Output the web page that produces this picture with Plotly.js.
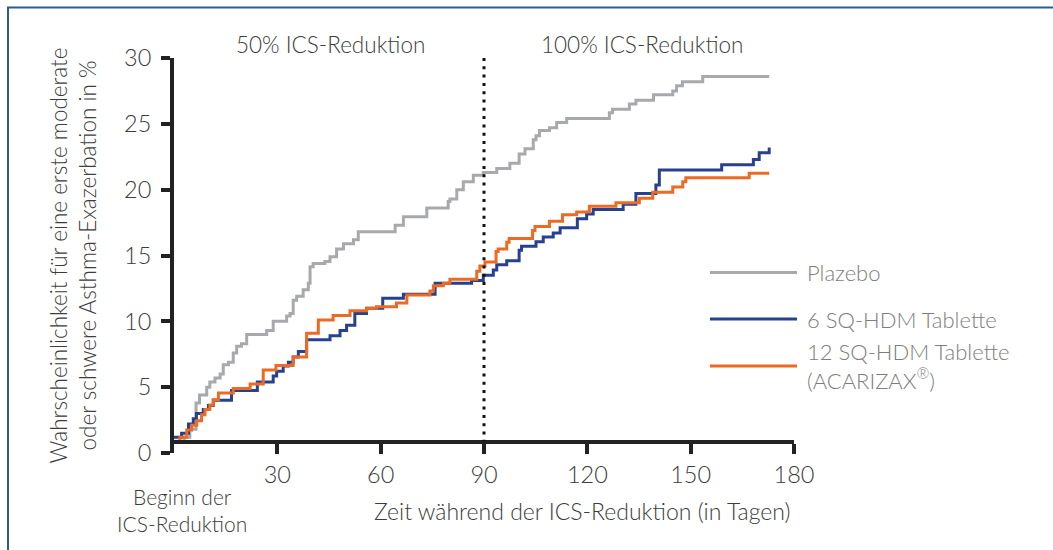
<!DOCTYPE html>
<html>
<head>
<meta charset="utf-8">
<script src="https://cdn.plot.ly/plotly-3.0.1.min.js"></script>
<style>
  html, body { margin: 0; padding: 0; background: #ffffff; }
  #chart { width: 1053px; height: 550px; }
</style>
</head>
<body>
<div id="chart"></div>
<script>
// ---------- data ----------
const seriesNames = ["Plazebo", "6 SQ-HDM Tablette", "12 SQ-HDM Tablette<br>(ACARIZAX<sup>®</sup>)"];

const plazeboDays = [0, 3.0, 4.6, 6.4, 7.4, 9.5, 10.4, 11.9, 13.4, 14.3, 15.8, 17.2, 18.2, 19.6, 21.1, 26.9, 28.8, 32.7, 33.7, 34.6, 35.6, 37.5, 39.0, 39.5, 40.4, 43.8, 45.3, 47.2, 49.2, 52.1, 53.5, 64.2, 66.6, 73.4, 79.6, 80.1, 82.1, 84.0, 86.9, 89.8, 93.7, 97.5, 100.2, 101.9, 104.3, 105.1, 106.1, 109.0, 111.1, 114.0, 126.4, 127.3, 132.2, 134.1, 139.2, 144.8, 145.9, 147.6, 153.5, 172.8];
const plazeboPct  = [0.9, 1.2, 1.8, 3.8, 4.4, 5.0, 5.4, 5.7, 6.0, 6.7, 6.9, 7.6, 8.1, 8.3, 9.0, 9.3, 10.0, 10.4, 10.6, 11.6, 11.9, 12.4, 12.9, 14.15, 14.4, 14.55, 14.9, 15.5, 15.9, 16.2, 16.8, 17.3, 17.95, 18.6, 19.1, 19.3, 20.0, 20.6, 21.1, 21.3, 21.6, 22.0, 22.7, 23.1, 23.8, 24.1, 24.5, 24.7, 25.1, 25.4, 25.85, 26.1, 26.5, 26.8, 27.2, 27.5, 27.9, 28.2, 28.6, 28.6];

const sq6Days = [0, 2.2, 4.2, 5.6, 6.5, 8.5, 10.0, 11.4, 16.7, 24.2, 28.8, 29.8, 31.7, 33.2, 34.6, 36.1, 38.5, 45.3, 48.2, 50.1, 52.5, 55.9, 60.6, 66.6, 75.8, 86.4, 89.8, 92.7, 93.7, 96.6, 100.2, 100.9, 105.1, 107.2, 110.1, 112.1, 117.1, 119.8, 121.7, 130.4, 134.1, 139.9, 140.9, 159.0, 168.2, 169.9, 172.8];
const sq6Pct  = [1.2, 1.5, 2.2, 2.6, 3.0, 3.3, 3.6, 4.0, 4.75, 5.4, 5.85, 6.2, 6.6, 6.9, 7.3, 7.7, 8.6, 8.9, 9.3, 9.7, 10.6, 11.0, 11.75, 12.05, 12.9, 13.1, 13.5, 13.9, 14.3, 14.6, 15.4, 15.7, 16.05, 16.4, 16.7, 17.1, 17.8, 18.15, 18.5, 18.9, 19.7, 20.35, 21.5, 21.9, 22.3, 22.8, 23.2];

const sq12Days = [0, 1.7, 3.7, 5.1, 6.6, 8.0, 9.0, 10.4, 11.4, 12.9, 17.2, 22.1, 25.9, 29.6, 34.6, 38.5, 41.9, 46.2, 51.1, 55.9, 58.8, 64.6, 67.6, 74.3, 75.3, 78.2, 80.1, 87.9, 88.8, 90.3, 93.5, 94.1, 96.6, 97.3, 104.1, 104.8, 109.0, 112.8, 116.9, 120.6, 128.3, 135.1, 139.0, 144.8, 147.7, 148.6, 167.0, 172.8];
const sq12Pct  = [0.8, 1.2, 1.75, 2.1, 2.45, 2.9, 3.3, 3.65, 4.05, 4.55, 4.9, 5.25, 6.3, 6.65, 7.3, 9.1, 10.1, 10.45, 10.8, 11.0, 11.1, 11.4, 12.0, 12.3, 12.7, 12.9, 13.2, 13.8, 14.2, 14.5, 15.3, 15.5, 16.0, 16.3, 16.9, 17.2, 17.6, 18.1, 18.3, 18.75, 19.0, 19.35, 19.8, 20.2, 20.6, 20.9, 21.25, 21.25];

const xTickVals = [30, 60, 90, 120, 150, 180];
const yTickVals = [0, 5, 10, 15, 20, 25, 30];
const phaseSplitDay = 90;
const phaseLabels = ["50% ICS-Reduktion", "100% ICS-Reduktion"];

// ---------- styling ----------
const colors = ["#a7a9ac", "#27408f", "#ec6b24"];
const FONT = "Lato, 'Open Sans', 'DejaVu Sans', sans-serif";
const dark = "#3c3c3c";
const axisCol = "#222222";

// plot area in pixels: x 174..794, y 58..453
const L = 174, R = 794, T = 58, B = 453;
const PX = px => (px - L) / (R - L);
const PY = py => (B - py) / (B - T);

const mk = (x, y, i) => ({
  type: "scatter", mode: "lines", x: x, y: y, name: seriesNames[i],
  line: { color: colors[i], width: 3, shape: "hv" },
  showlegend: false, hoverinfo: "skip"
});

const traces = [
  mk(plazeboDays, plazeboPct, 0),
  mk(sq6Days, sq6Pct, 1),
  mk(sq12Days, sq12Pct, 2)
];

// legend (drawn by hand: long sample lines)
const legendY = [272.5, 319, 366];
const legendShapes = legendY.map((py, i) => ({
  type: "line", xref: "paper", yref: "paper",
  x0: PX(710), x1: PX(797), y0: PY(py), y1: PY(py),
  line: { color: colors[i], width: 3 }
}));
const legendAnn = legendY.map((py, i) => ({
  xref: "paper", yref: "paper", x: PX(805), y: PY(py),
  xanchor: "left", yanchor: "middle", align: "left",
  text: seriesNames[i], showarrow: false,
  font: { family: FONT, size: 22, color: "#7d7d7d", weight: 300 }
}));

const layout = {
  width: 1053, height: 550,
  margin: { l: L, r: 1053 - R, t: T, b: 550 - B, pad: 0 },
  paper_bgcolor: "#ffffff", plot_bgcolor: "#ffffff",
  showlegend: false,
  font: { family: FONT, color: dark, weight: 300 },
  xaxis: {
    range: [0, 180], anchor: "free", position: PY(442),
    showgrid: false, zeroline: false,
    showline: true, linecolor: axisCol, linewidth: 4,
    ticks: "outside", ticklen: 10, tickwidth: 4, tickcolor: axisCol,
    tickvals: xTickVals,
    ticklabelstandoff: 1,
    tickfont: { family: FONT, size: 23.5, color: dark, weight: 300 },
    fixedrange: true
  },
  yaxis: {
    range: [0, 30], anchor: "x",
    showgrid: false, zeroline: false,
    showline: true, linecolor: axisCol, linewidth: 4,
    ticks: "outside", ticklen: 9, tickwidth: 4, tickcolor: axisCol,
    tickvals: yTickVals,
    ticklabelstandoff: 5,
    tickfont: { family: FONT, size: 23.5, color: dark, weight: 300 },
    title: {
      text: "Wahrscheinlichkeit für eine erste moderate<br>oder schwere Asthma-Exazerbation in %",
      font: { family: FONT, size: 22.5, color: dark, weight: 300 },
      standoff: 22
    },
    fixedrange: true
  },
  shapes: [
    { type: "line", xref: "x", yref: "y", x0: phaseSplitDay, x1: phaseSplitDay, y0: 30, y1: 0.9,
      line: { color: "#111111", width: 3, dash: "3px,5.3px" } },
    { type: "rect", xref: "paper", yref: "paper",
      x0: PX(8), x1: PX(1070), y0: PY(7.5), y1: PY(570),
      line: { color: "#2d5b8c", width: 2 }, fillcolor: "rgba(0,0,0,0)", layer: "below" }
  ].concat(legendShapes),
  annotations: [
    { xref: "paper", yref: "paper", x: PX(330), y: PY(44), text: phaseLabels[0], showarrow: false,
      xanchor: "center", yanchor: "middle", font: { family: FONT, size: 22.5, color: dark, weight: 300 } },
    { xref: "paper", yref: "paper", x: PX(642), y: PY(44), text: phaseLabels[1], showarrow: false,
      xanchor: "center", yanchor: "middle", font: { family: FONT, size: 22.5, color: dark, weight: 300 } },
    { xref: "paper", yref: "paper", x: PX(182), y: PY(510), text: "Beginn der<br>ICS-Reduktion", showarrow: false,
      xanchor: "center", yanchor: "middle", align: "center",
      font: { family: FONT, size: 21, color: dark, weight: 300 } },
    { xref: "paper", yref: "paper", x: PX(582), y: PY(511), text: "Zeit während der ICS-Reduktion (in Tagen)", showarrow: false,
      xanchor: "center", yanchor: "middle",
      font: { family: FONT, size: 23, color: dark, weight: 300 } }
  ].concat(legendAnn)
};

Plotly.newPlot("chart", traces, layout, { displayModeBar: false, staticPlot: true });
</script>
</body>
</html>
